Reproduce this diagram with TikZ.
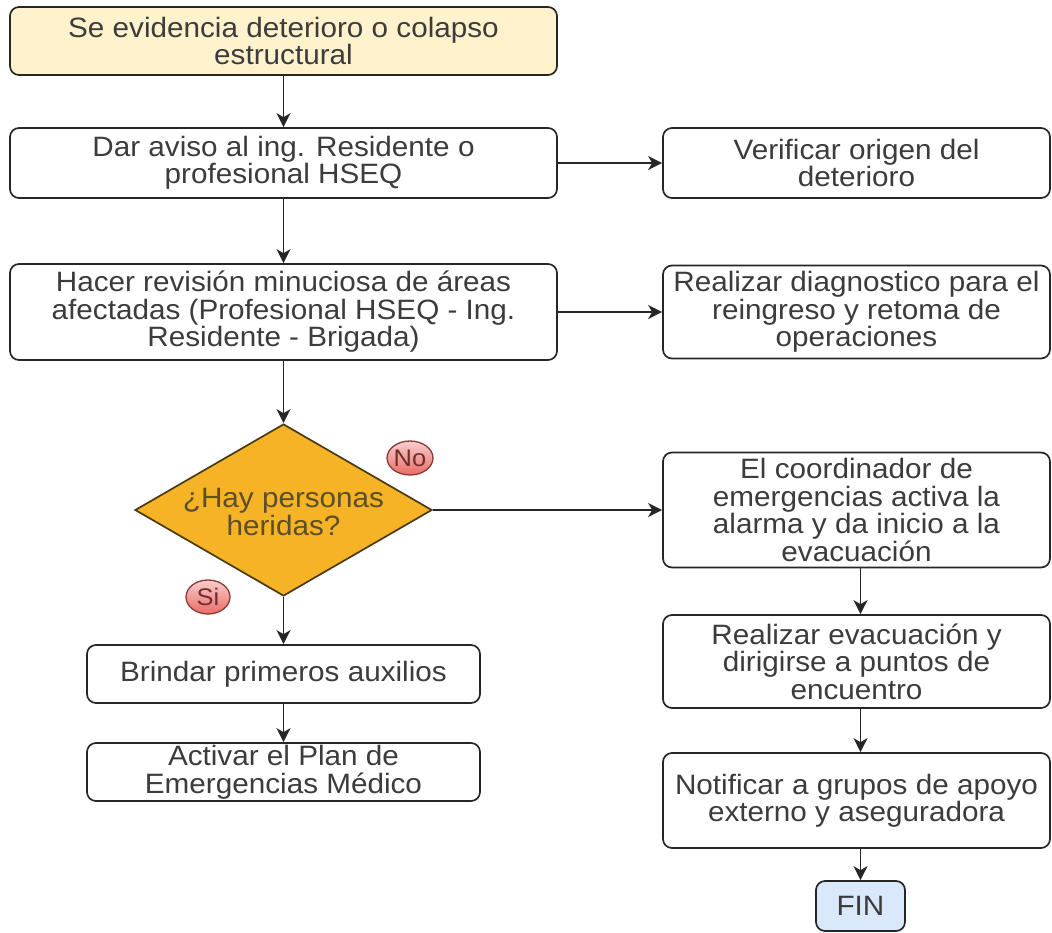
\documentclass[tikz,border=0pt]{standalone}
\usepackage{fontspec}
\setmainfont{Liberation Sans}[FakeStretch=1.06]
\usetikzlibrary{shapes.geometric,arrows.meta,calc}
\definecolor{txt}{HTML}{3C3C3C}
\definecolor{edge}{HTML}{262626}
\definecolor{startfill}{HTML}{FFF2CC}
\definecolor{finfill}{HTML}{DAE8FC}
\definecolor{decfill}{HTML}{F5B325}
\definecolor{decedge}{HTML}{4A3A12}
\definecolor{tagtop}{HTML}{F8CECC}
\definecolor{tagbot}{HTML}{EA6B66}
\definecolor{tagedge}{HTML}{8A3A38}
\begin{document}
\begin{tikzpicture}[x=1pt,y=-1pt,
  stepbox/.style={draw=edge, line width=1.7pt, rounded corners=9pt, fill=white,
    inner sep=0pt, align=center, text=txt,
    font=\fontsize{28}{27.5}\selectfont},
  decision/.style={diamond, draw=decedge, line width=1.7pt, fill=decfill, inner sep=0pt},
  dectext/.style={align=center, text=decedge!90, font=\fontsize{28}{27.5}\selectfont},
  tag/.style={ellipse, draw=tagedge, line width=1.3pt, top color=tagtop, bottom color=tagbot,
    minimum width=44pt, minimum height=34pt, inner sep=0pt, text=tagedge!80!black,
    font=\fontsize{24}{24}\selectfont},
  conn/.style={draw=edge, line width=1.7pt, -{Stealth[length=14pt,width=14pt,inset=4pt]}}
]
\useasboundingbox (0,0) rectangle (1052,932);
\fill[white] (0,0) rectangle (1052,932);

% left column
\node[stepbox, fill=startfill, minimum width=547pt, minimum height=68pt] (top) at (283.5,41)
  {Se evidencia deterioro o colapso\\estructural};
\node[stepbox, minimum width=547pt, minimum height=70pt] (aviso) at (283.5,163)
  {Dar aviso al ing. Residente o\\profesional HSEQ};
\node[stepbox, minimum width=547pt, minimum height=96pt] (revision) at (283.5,312)
  {Hacer revisión minuciosa de áreas\\afectadas (Profesional HSEQ - Ing.\\Residente - Brigada)};
\node[decision, minimum width=297pt, minimum height=172pt] (dec) at (283.5,510) {};
\node[dectext] (dectxt) at (283.5,512) {¿Hay personas\\heridas?};
\node[stepbox, minimum width=393pt, minimum height=58pt] (brindar) at (283.5,674)
  {Brindar primeros auxilios};
\node[stepbox, minimum width=393pt, minimum height=58pt] (activar) at (283.5,772)
  {Activar el Plan de\\Emergencias Médico};

% right column
\node[stepbox, minimum width=387pt, minimum height=70pt] (verificar) at (856.5,163)
  {Verificar origen del\\deterioro};
\node[stepbox, minimum width=387pt, minimum height=93pt] (diag) at (856.5,312)
  {Realizar diagnostico para el\\reingreso y retoma de\\operaciones};
\node[stepbox, minimum width=387pt, minimum height=115pt] (coord) at (856.5,510)
  {El coordinador de\\emergencias activa la\\alarma y da inicio a la\\evacuación};
\node[stepbox, minimum width=387pt, minimum height=93pt] (evac) at (856.5,661.5)
  {Realizar evacuación y\\dirigirse a puntos de\\encuentro};
\node[stepbox, minimum width=387pt, minimum height=95pt] (notif) at (856.5,800.5)
  {Notificar a grupos de apoyo\\externo y aseguradora};
\node[stepbox, fill=finfill, minimum width=89pt, minimum height=50pt] (fin) at (860.5,906)
  {FIN};

% tags
\node[tag] (no) at (410,458) {No};
\node[tag] (si) at (208,597) {Si};

% connectors
\draw[conn] (top) -- (aviso);
\draw[conn] (aviso) -- (revision);
\draw[conn] (revision) -- (dec);
\draw[conn] (dec) -- (brindar);
\draw[conn] (brindar) -- (activar);
\draw[conn] (aviso) -- (verificar);
\draw[conn] (revision) -- (diag);
\draw[conn] (dec.east) -- (coord.west);
\draw[conn] (coord.south -| fin) -- (evac.north -| fin);
\draw[conn] (evac.south -| fin) -- (notif.north -| fin);
\draw[conn] (notif.south -| fin) -- (fin);
\end{tikzpicture}
\end{document}
